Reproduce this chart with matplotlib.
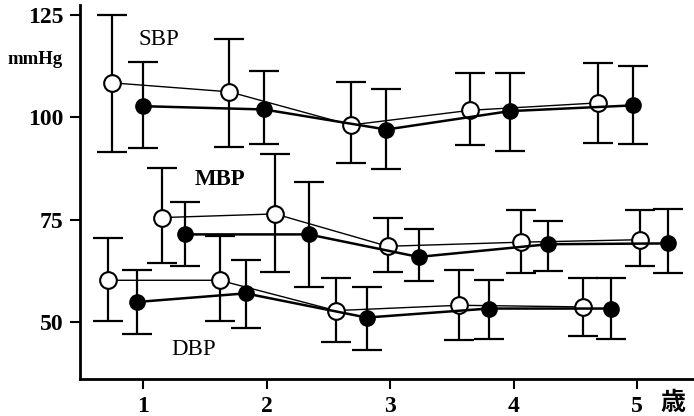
import numpy as np
import matplotlib
matplotlib.use("Agg")
from matplotlib import pyplot as plt

# x positions (age, years)
sbp_open_x = [0.75, 1.70, 2.68, 3.65, 4.68]
sbp_open_y = [108.4, 106.2, 98.1, 101.7, 103.5]
sbp_open_hi = [125.0, 119.2, 108.6, 110.7, 113.3]
sbp_open_lo = [91.5, 92.8, 88.9, 93.3, 93.6]

sbp_fill_x = [1.00, 1.98, 2.97, 3.97, 4.97]
sbp_fill_y = [102.7, 101.9, 97.0, 101.5, 102.9]
sbp_fill_hi = [113.5, 111.3, 106.8, 110.9, 112.4]
sbp_fill_lo = [92.6, 93.4, 87.3, 91.8, 93.4]

mbp_open_x = [1.15, 2.07, 2.98, 4.06, 5.02]
mbp_open_y = [75.5, 76.4, 68.5, 69.5, 70.1]
mbp_open_hi = [87.5, 91.0, 75.4, 77.3, 77.3]
mbp_open_lo = [64.5, 62.2, 62.2, 61.9, 63.8]

mbp_fill_x = [1.34, 2.34, 3.23, 4.28, 5.25]
mbp_fill_y = [71.4, 71.4, 65.9, 69.0, 69.2]
mbp_fill_hi = [79.3, 84.2, 72.6, 74.7, 77.5]
mbp_fill_lo = [63.7, 58.6, 60.0, 62.5, 62.0]

dbp_open_x = [0.72, 1.62, 2.56, 3.56, 4.56]
dbp_open_y = [60.2, 60.2, 52.8, 54.1, 53.7]
dbp_open_hi = [70.4, 70.9, 60.8, 62.7, 60.7]
dbp_open_lo = [50.3, 50.3, 45.2, 45.6, 46.6]

dbp_fill_x = [0.95, 1.83, 2.81, 3.80, 4.79]
dbp_fill_y = [54.9, 57.0, 51.1, 53.3, 53.3]
dbp_fill_hi = [62.7, 65.1, 58.6, 60.2, 60.7]
dbp_fill_lo = [47.1, 48.6, 43.2, 45.8, 45.8]

x_ticks = [1, 2, 3, 4, 5]
y_ticks = [50, 75, 100, 125]

plt.rcParams['font.family'] = ['Liberation Serif', 'Noto Sans CJK JP']

fig = plt.figure(figsize=(6.94, 4.16), dpi=100)
ax = fig.add_axes([80 / 694, 1 - 379 / 416, 1 - 80 / 694, (379 - 5) / 416])


def draw(x, y, hi, lo, filled):
    y = np.array(y)
    err = [y - np.array(lo), np.array(hi) - y]
    ax.errorbar(x, y, yerr=err, fmt='none', ecolor='black', elinewidth=1.6,
                capsize=11, capthick=1.6, zorder=2)
    if filled:
        ax.plot(x, y, '-', color='black', lw=1.8, marker='o', markersize=11,
                markerfacecolor='black', markeredgecolor='black', zorder=4)
    else:
        ax.plot(x, y, '-', color='black', lw=1.0, marker='o', markersize=12,
                markerfacecolor='white', markeredgecolor='black',
                markeredgewidth=1.5, zorder=3)


draw(sbp_open_x, sbp_open_y, sbp_open_hi, sbp_open_lo, False)
draw(sbp_fill_x, sbp_fill_y, sbp_fill_hi, sbp_fill_lo, True)
draw(mbp_open_x, mbp_open_y, mbp_open_hi, mbp_open_lo, False)
draw(mbp_fill_x, mbp_fill_y, mbp_fill_hi, mbp_fill_lo, True)
draw(dbp_open_x, dbp_open_y, dbp_open_hi, dbp_open_lo, False)
draw(dbp_fill_x, dbp_fill_y, dbp_fill_hi, dbp_fill_lo, True)

ax.set_xlim(0.49, 5.46)
ax.set_ylim(36.1, 127.4)
ax.set_xticks(x_ticks)
ax.set_yticks(y_ticks)
ax.set_xticklabels([str(t) for t in x_ticks], fontsize=17, fontweight='bold')
ax.set_yticklabels([str(t) for t in y_ticks], fontsize=17, fontweight='bold')
ax.tick_params(direction='out', length=7, width=1.5, pad=5)
ax.spines['top'].set_visible(False)
ax.spines['right'].set_visible(False)
ax.spines['left'].set_linewidth(2)
ax.spines['bottom'].set_linewidth(2)

ax.text(1.13, 119.0, 'SBP', fontsize=16.5, ha='center', va='center')
ax.text(1.62, 84.9, 'MBP', fontsize=16.5, fontweight='bold', ha='center', va='center')
ax.text(1.41, 43.4, 'DBP', fontsize=16.5, ha='center', va='center')

fig.text(35 / 694, 1 - 60 / 416, 'mmHg', fontsize=13.5, fontweight='bold',
         ha='center', va='center')
fig.text(673 / 694, 1 - 403 / 416, '歳', fontsize=18, fontweight='bold',
         ha='center', va='center')

plt.savefig('out.png', dpi=100)
